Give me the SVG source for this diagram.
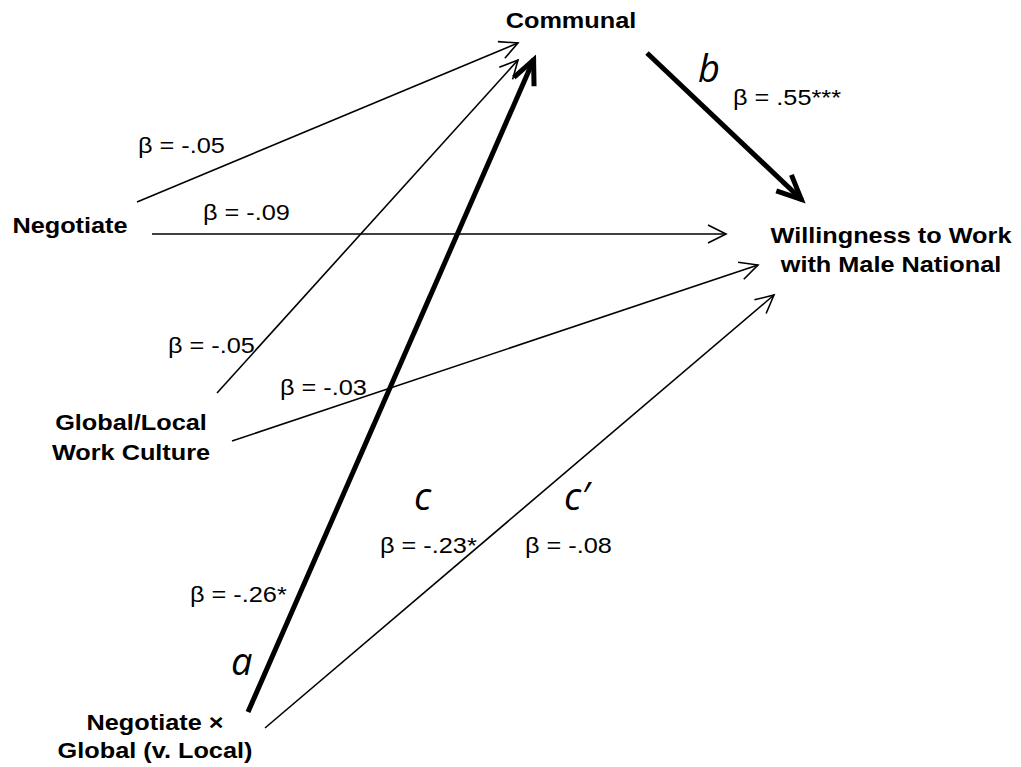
<svg xmlns="http://www.w3.org/2000/svg" width="1021" height="767" viewBox="0 0 1021 767">
<style>
.node{font-family:"Liberation Sans",Arial,sans-serif;font-size:22px;font-weight:bold;fill:#000;text-anchor:middle}
.beta{font-family:"Liberation Sans",Arial,sans-serif;font-size:22px;fill:#000}
.path{font-family:"Open Sans","Noto Sans",sans-serif;font-style:italic;font-size:38px;fill:#000}
.thin{stroke:#000;stroke-width:1.6;fill:none;marker-end:url(#arrThin)}
.thick{stroke:#000;stroke-width:5;fill:none;marker-end:url(#arrThick)}
</style>
<defs>
<marker id="arrThin" markerUnits="userSpaceOnUse" orient="auto" markerWidth="40" markerHeight="40" viewBox="-30 -20 40 40" refX="0" refY="0" overflow="visible">
<path d="M-18,-9 L0,0 L-18,9" fill="none" stroke="#000" stroke-width="1.6"/>
</marker>
<marker id="arrThick" markerUnits="userSpaceOnUse" orient="auto" markerWidth="60" markerHeight="60" viewBox="-40 -30 60 60" refX="0" refY="0" overflow="visible">
<path d="M-25,-11 L-1,0 L-25,11" fill="none" stroke="#000" stroke-width="5" stroke-linejoin="miter"/>
</marker>
</defs>
<rect width="1021" height="767" fill="#fff"/>
<g id="connectors">
<line class="thin" x1="137" y1="202" x2="518" y2="43"/>
<line class="thin" x1="152" y1="234" x2="726" y2="234"/>
<line class="thin" x1="217" y1="393" x2="518" y2="60"/>
<line class="thin" x1="232" y1="441" x2="758" y2="265"/>
<line class="thin" x1="265" y1="728" x2="774" y2="295"/>
<line class="thick" x1="248" y1="712" x2="534" y2="59"/>
<line class="thick" x1="647" y1="53" x2="802" y2="200"/>
</g>
<g id="node-communal"><text class="node" transform="translate(571,28) scale(1.15,1)">Communal</text></g>
<g id="node-negotiate"><text class="node" transform="translate(70,233) scale(1.15,1)">Negotiate</text></g>
<g id="node-willingness">
<text class="node" transform="translate(891,243) scale(1.15,1)">Willingness to Work</text>
<text class="node" transform="translate(891,272) scale(1.15,1)">with Male National</text>
</g>
<g id="node-globallocal">
<text class="node" transform="translate(131,430) scale(1.15,1)">Global/Local</text>
<text class="node" transform="translate(131,460) scale(1.15,1)">Work Culture</text>
</g>
<g id="node-interaction">
<text class="node" transform="translate(155,730) scale(1.15,1)">Negotiate ×</text>
<text class="node" transform="translate(155,758) scale(1.15,1)">Global (v. Local)</text>
</g>
<g id="labels">
<text class="beta" transform="translate(138,153) scale(1.15,1)">β = -.05</text>
<text class="beta" transform="translate(203,220) scale(1.15,1)">β = -.09</text>
<text class="beta" transform="translate(168,353) scale(1.15,1)">β = -.05</text>
<text class="beta" transform="translate(280,395) scale(1.15,1)">β = -.03</text>
<text class="beta" transform="translate(733,105) scale(1.15,1)">β = .55***</text>
<text class="beta" transform="translate(380,553) scale(1.15,1)">β = -.23*</text>
<text class="beta" transform="translate(525,553) scale(1.15,1)">β = -.08</text>
<text class="beta" transform="translate(190,602) scale(1.15,1)">β = -.26*</text>
<text class="path" x="231" y="675">a</text>
<text class="path" x="698" y="82">b</text>
<text class="path" x="414" y="510">c</text>
<text class="path" x="564" y="510">c′</text>
</g>
</svg>
